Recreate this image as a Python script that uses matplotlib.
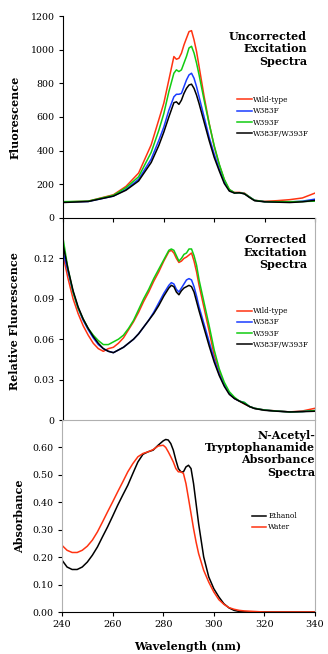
import numpy as np
import matplotlib
matplotlib.use('Agg')
import matplotlib.pyplot as plt

plt.rcParams['font.family'] = 'DejaVu Serif'

#### Uncorrected excitation spectra ####
wl_unc = [240, 250, 260, 265, 270, 275, 278, 280, 282, 284, 285, 286, 287, 288,
          289, 290, 291, 292, 293, 294, 296, 298, 300, 302, 304, 306, 308, 310,
          312, 314, 316, 320, 325, 330, 335, 340]
unc_wt = [95, 100, 138, 188, 267, 435, 583, 682, 820, 959, 943, 949, 979, 1028,
          1068, 1107, 1113, 1058, 989, 900, 722, 563, 425, 316, 227, 168, 152, 152,
          148, 125, 105, 99, 103, 109, 119, 148]
unc_383 = [95, 98, 130, 170, 230, 350, 460, 540, 640, 720, 735, 735, 740, 780,
           820, 850, 860, 830, 780, 720, 600, 480, 380, 290, 215, 165, 150, 150,
           145, 125, 105, 97, 96, 95, 100, 112]
unc_393 = [97, 100, 135, 180, 245, 390, 520, 620, 750, 860, 880, 870, 880, 920,
           960, 1010, 1020, 980, 920, 850, 700, 560, 430, 320, 230, 170, 150, 150,
           145, 125, 105, 97, 97, 97, 98, 100]
unc_dbl = [92, 98, 130, 165, 220, 330, 430, 510, 600, 685, 690, 675, 700, 740,
           770, 790, 795, 770, 730, 680, 570, 460, 360, 280, 205, 160, 148, 150,
           143, 122, 103, 96, 94, 92, 96, 105]

#### Corrected excitation spectra ####
wl_cor = [240, 242, 244, 246, 248, 250, 252, 254, 256, 258, 260, 262, 264, 266,
          268, 270, 272, 274, 276, 278, 280, 282, 283, 284, 285, 286, 287, 288,
          289, 290, 291, 292, 293, 294, 296, 298, 300, 302, 304, 306, 308, 310,
          312, 314, 316, 320, 325, 330, 335, 340]
cor_wt = [0.1225, 0.105, 0.090, 0.079, 0.070, 0.063, 0.057, 0.053, 0.051, 0.053,
          0.054, 0.057, 0.061, 0.067, 0.073, 0.080, 0.088, 0.095, 0.103, 0.110,
          0.118, 0.125, 0.126, 0.124, 0.120, 0.117, 0.118, 0.120, 0.121, 0.1225,
          0.124, 0.118, 0.110, 0.100, 0.083, 0.066, 0.048, 0.036, 0.026, 0.020,
          0.016, 0.014, 0.012, 0.010, 0.0087, 0.0074, 0.0067, 0.006, 0.0067, 0.0087]
cor_383 = [0.125, 0.110, 0.095, 0.083, 0.074, 0.067, 0.061, 0.056, 0.053, 0.051,
           0.050, 0.052, 0.054, 0.057, 0.060, 0.064, 0.069, 0.074, 0.080, 0.087,
           0.094, 0.100, 0.102, 0.101, 0.097, 0.095, 0.098, 0.101, 0.104, 0.105,
           0.104, 0.099, 0.092, 0.084, 0.071, 0.058, 0.045, 0.034, 0.026, 0.020,
           0.016, 0.014, 0.013, 0.010, 0.0087, 0.0074, 0.0066, 0.006, 0.0063, 0.007]
cor_393 = [0.135, 0.112, 0.095, 0.083, 0.075, 0.068, 0.063, 0.059, 0.056, 0.056,
           0.058, 0.060, 0.063, 0.068, 0.074, 0.082, 0.090, 0.097, 0.105, 0.112,
           0.119, 0.126, 0.127, 0.126, 0.122, 0.118, 0.120, 0.123, 0.124, 0.127,
           0.127, 0.122, 0.115, 0.104, 0.087, 0.070, 0.052, 0.038, 0.028, 0.021,
           0.017, 0.014, 0.013, 0.010, 0.0087, 0.0074, 0.0066, 0.006, 0.0063, 0.007]
cor_dbl = [0.130, 0.112, 0.096, 0.084, 0.075, 0.068, 0.062, 0.057, 0.053, 0.051,
           0.050, 0.052, 0.054, 0.057, 0.060, 0.064, 0.069, 0.074, 0.079, 0.085,
           0.092, 0.098, 0.100, 0.099, 0.095, 0.093, 0.096, 0.098, 0.099, 0.100,
           0.099, 0.095, 0.088, 0.081, 0.068, 0.055, 0.043, 0.033, 0.025, 0.019,
           0.016, 0.014, 0.012, 0.010, 0.0085, 0.0072, 0.0065, 0.006, 0.0062, 0.0065]

#### N-acetyl-tryptophanamide absorbance ####
wl_abs = [240, 242, 244, 246, 248, 250, 252, 254, 256, 258, 260, 262, 264, 266,
          268, 270, 272, 274, 276, 278, 280, 281, 282, 283, 284, 285, 286, 287,
          288, 289, 290, 291, 292, 293, 294, 296, 298, 300, 302, 304, 306, 308,
          310, 312, 314, 318, 320, 340]
abs_eth = [0.189, 0.164, 0.155, 0.155, 0.164, 0.182, 0.207, 0.237, 0.274, 0.310,
           0.349, 0.389, 0.426, 0.462, 0.505, 0.547, 0.575, 0.584, 0.590, 0.608,
           0.624, 0.629, 0.627, 0.614, 0.590, 0.554, 0.523, 0.511, 0.511, 0.529,
           0.535, 0.523, 0.468, 0.395, 0.322, 0.201, 0.128, 0.085, 0.055, 0.030,
           0.015, 0.006, 0.002, 0.001, 0.0, 0.0, 0.0, 0.0]
abs_wat = [0.243, 0.225, 0.217, 0.217, 0.225, 0.240, 0.262, 0.292, 0.328, 0.365,
           0.401, 0.438, 0.474, 0.511, 0.541, 0.566, 0.578, 0.584, 0.592, 0.605,
           0.608, 0.600, 0.584, 0.566, 0.547, 0.523, 0.511, 0.511, 0.505, 0.468,
           0.414, 0.359, 0.304, 0.255, 0.213, 0.152, 0.109, 0.073, 0.045, 0.028,
           0.016, 0.010, 0.006, 0.004, 0.003, 0.001, 0.0, 0.0]

RED = '#ff3311'
BLUE = '#1a3cff'
GREEN = '#11cc11'
BLACK = '#000000'
GRAY = '#b0b0b0'
xticks = [240, 260, 280, 300, 320, 340]

fig = plt.figure(figsize=(3.28, 6.54), dpi=100)
ax1 = fig.add_axes([63/328, 1-218/654, 252/328, 202/654])
ax2 = fig.add_axes([63/328, 1-420/654, 252/328, 202/654])
ax3 = fig.add_axes([62/328, 1-612/654, 253/328, 192/654])

#Plot the uncorrected spectra
ax1.plot(wl_unc, unc_wt, color=RED, lw=1.1, label='Wild-type')
ax1.plot(wl_unc, unc_383, color=BLUE, lw=1.1, label='W383F')
ax1.plot(wl_unc, unc_393, color=GREEN, lw=1.1, label='W393F')
ax1.plot(wl_unc, unc_dbl, color=BLACK, lw=1.1, label='W383F/W393F')
ax1.set_ylim(0, 1200)
ax1.set_yticks(range(0, 1201, 200))

#Plot the corrected spectra
ax2.plot(wl_cor, cor_wt, color=RED, lw=1.1, label='Wild-type')
ax2.plot(wl_cor, cor_383, color=BLUE, lw=1.1, label='W383F')
ax2.plot(wl_cor, cor_393, color=GREEN, lw=1.1, label='W393F')
ax2.plot(wl_cor, cor_dbl, color=BLACK, lw=1.1, label='W383F/W393F')
ax2.set_ylim(0, 0.15)
ax2.set_yticks([0, 0.03, 0.06, 0.09, 0.12])
ax2.set_yticklabels(['0', '0.03', '0.06', '0.09', '0.12'])

#Plot the absorbance spectra
ax3.plot(wl_abs, abs_eth, color=BLACK, lw=1.1, label='Ethanol')
ax3.plot(wl_abs, abs_wat, color=RED, lw=1.1, label='Water')
ax3.set_ylim(0, 0.70)
ax3.set_yticks(np.arange(0, 0.61, 0.1))
ax3.set_yticklabels(['%.2f' % v for v in np.arange(0, 0.61, 0.1)])

for ax in (ax1, ax2, ax3):
    ax.set_xlim(240, 340)
    ax.set_xticks(xticks)
    ax.patch.set_alpha(0)
    ax.tick_params(direction='out', length=3, width=0.8, labelsize=6.8, pad=3)
    ax.spines['top'].set_visible(False)
    for s in ax.spines.values():
        s.set_linewidth(0.8)

ax1.spines['right'].set_visible(False)
ax1.tick_params(axis='x', labelbottom=False)
ax2.tick_params(axis='x', length=0, labelbottom=False)
ax2.spines['bottom'].set_color(GRAY)
ax2.spines['right'].set_color(GRAY)
ax3.spines['left'].set_color(GRAY)
ax3.spines['right'].set_color(GRAY)
ax3.tick_params(axis='x', labelsize=7)

#Panel titles
ax1.text(0.968, 0.925, 'Uncorrected\nExcitation\nSpectra', transform=ax1.transAxes,
         ha='right', va='top', multialignment='right', fontsize=8, fontweight='bold',
         linespacing=1.15)
ax2.text(0.968, 0.92, 'Corrected\nExcitation\nSpectra', transform=ax2.transAxes,
         ha='right', va='top', multialignment='right', fontsize=8, fontweight='bold',
         linespacing=1.15)
ax3.text(1.0, 0.95, 'N-Acetyl-\nTryptophanamide\nAbsorbance\nSpectra',
         transform=ax3.transAxes, ha='right', va='top', multialignment='right',
         fontsize=8, fontweight='bold', linespacing=1.15)

#Legends
leg_kw = dict(frameon=False, fontsize=5.3, handlelength=2.0, handletextpad=0.25,
              labelspacing=0.45, borderpad=0, borderaxespad=0)
ax1.legend(loc='center left', bbox_to_anchor=(0.69, 0.5), **leg_kw)
ax2.legend(loc='center left', bbox_to_anchor=(0.69, 0.455), **leg_kw)
ax3.legend(loc='center left', bbox_to_anchor=(0.75, 0.47), **leg_kw)

#Axis labels
fig.text(15/328, 1-117/654, 'Fluorescence', rotation=90, ha='center', va='center',
         fontsize=8, fontweight='bold')
fig.text(15/328, 1-321/654, 'Relative Fluorescence', rotation=90, ha='center',
         va='center', fontsize=8, fontweight='bold')
fig.text(20/328, 1-516/654, 'Absorbance', rotation=90, ha='center', va='center',
         fontsize=8, fontweight='bold')
fig.text(188/328, 1-647/654, 'Wavelength (nm)', ha='center', va='center',
         fontsize=8, fontweight='bold')

fig.savefig('out.png', dpi=100)
